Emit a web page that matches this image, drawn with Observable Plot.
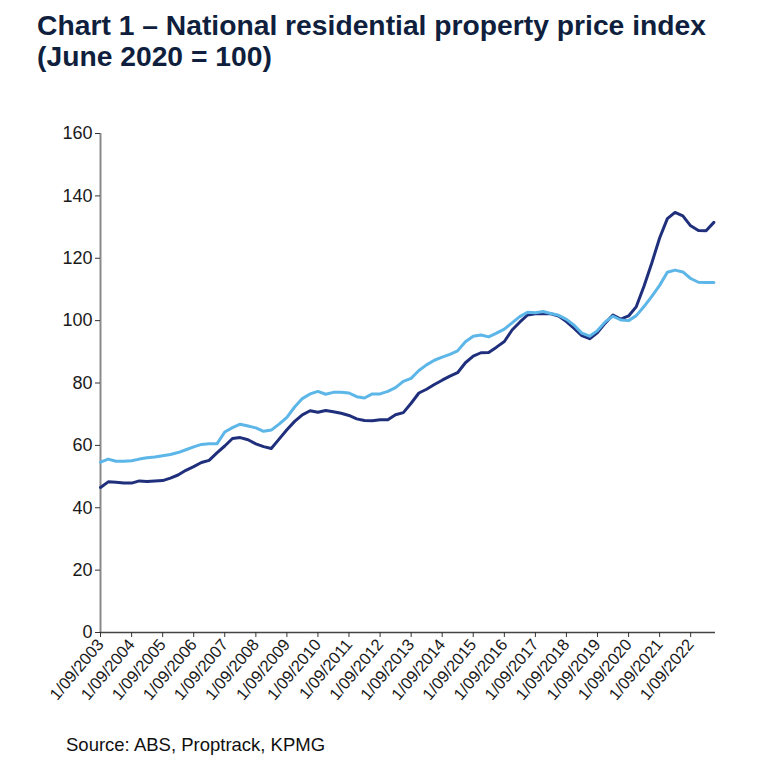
<!DOCTYPE html>
<html>
<head>
<meta charset="utf-8">
<script src="https://cdn.jsdelivr.net/npm/d3@7"></script>
<script src="https://cdn.jsdelivr.net/npm/@observablehq/plot@0.6"></script>
<style>
  html, body { margin: 0; padding: 0; background: #fff; }
  #wrap { width: 768px; height: 768px; position: relative; overflow: hidden; }
  #title { height: 80px; box-sizing: border-box; padding: 10px 0 0 37px; font-family: "Liberation Sans Narrow", "Arial Narrow", "Liberation Sans", Arial, sans-serif; font-weight: bold; font-size: 27.5px; line-height: 31px; color: #0f1f3d; white-space: nowrap; }
  #title span { display: inline-block; transform-origin: 0 0; }
  #caption { font-family: "Liberation Sans", Arial, sans-serif; font-size: 18.5px; color: #111; padding: 17px 0 0 66px; }
  svg { display: block; }
</style>
</head>
<body>
<div id="wrap">
  <div id="title"><span id="tspan">Chart 1 – National residential property price index<br>(June 2020 = 100)</span></div>
  <div id="chart"></div>
  <div id="caption">Source: ABS, Proptrack, KPMG</div>
</div>
<script>
// Quarterly index values, September 2003 to June 2023 (June 2020 = 100)
const darkSeries = [
  46.5, 48.3, 48.2, 47.9, 47.9, 48.6, 48.4, 48.6, 48.7, 49.5,
  50.5, 52.0, 53.2, 54.5, 55.2, 57.6, 59.8, 62.2, 62.5, 61.8,
  60.5, 59.6, 59.0, 62.0, 65.0, 67.7, 69.8, 71.1, 70.6, 71.2,
  70.8, 70.3, 69.6, 68.5, 68.0, 67.9, 68.2, 68.2, 69.8, 70.5,
  73.5, 76.8, 78.0, 79.5, 80.9, 82.2, 83.3, 86.5, 88.6, 89.7,
  89.8, 91.5, 93.3, 97.0, 99.5, 101.8, 102.2, 102.3, 102.2, 101.5,
  99.7, 97.5, 95.2, 94.2, 96.2, 99.2, 101.8, 100.5, 101.5, 104.5,
  111.0, 118.5, 126.5, 132.7, 134.7, 133.6, 130.4, 128.9, 128.8, 131.5
];
const lightSeries = [
  54.6, 55.6, 54.9, 54.9, 55.1, 55.6, 56.0, 56.3, 56.7, 57.1,
  57.7, 58.6, 59.5, 60.3, 60.5, 60.5, 64.3, 65.7, 66.8, 66.2,
  65.6, 64.5, 64.9, 66.8, 69.0, 72.3, 75.0, 76.5, 77.3, 76.4,
  77.0, 77.0, 76.8, 75.6, 75.2, 76.5, 76.5, 77.3, 78.5, 80.5,
  81.5, 84.0, 85.8, 87.3, 88.3, 89.2, 90.3, 93.2, 95.0, 95.4,
  94.8, 96.0, 97.3, 99.3, 101.3, 102.7, 102.5, 102.9, 102.3, 101.7,
  100.4, 98.5, 96.0, 95.0, 96.8, 99.6, 101.4, 100.2, 100.0, 101.6,
  104.5, 107.8, 111.3, 115.5, 116.2, 115.6, 113.5, 112.3, 112.2, 112.2
];
const firstQuarter = "2003-09-01";
const tickYears = [2003,2004,2005,2006,2007,2008,2009,2010,2011,2012,2013,2014,2015,2016,2017,2018,2019,2020,2021,2022];
const yTicks = [0,20,40,60,80,100,120,140,160];

const start = new Date(firstQuarter + "T00:00:00Z");
const quarters = darkSeries.map((_, i) => d3.utcMonth.offset(start, 3 * i));
const darkData = quarters.map((date, i) => ({date, value: darkSeries[i]}));
const lightData = quarters.map((date, i) => ({date, value: lightSeries[i]}));
const xTicks = tickYears.map(y => new Date(Date.UTC(y, 8, 1)));

const W = 768, H = 637;
const chart = Plot.plot({
  width: W,
  height: H,
  marginLeft: 100,
  marginRight: 53,
  marginTop: 53,
  marginBottom: 85,
  style: {fontFamily: "'Liberation Sans', Arial, sans-serif", color: "#1a1a1a", background: "#fff"},
  x: {type: "utc", domain: [start, new Date(Date.UTC(2023, 5, 20))]},
  y: {domain: [0, 160]},
  marks: [
    Plot.ruleX([start], {y1: 0, y2: 160, stroke: "#8a8a8a", strokeWidth: 2}),
    Plot.ruleY([0], {stroke: "#444", strokeWidth: 1.5}),
    Plot.axisY({ticks: yTicks, tickSize: 5, tickPadding: 3, fontSize: 18, label: null, stroke: "#333"}),
    Plot.axisX({ticks: xTicks, tickFormat: d => `1/09/${d.getUTCFullYear()}`, tickRotate: -50, tickSize: 5, tickPadding: 4, fontSize: 16.5, label: null, stroke: "#333"}),
    Plot.line(darkData, {x: "date", y: "value", stroke: "#1f2f7c", strokeWidth: 3}),
    Plot.line(lightData, {x: "date", y: "value", stroke: "#5cb6e8", strokeWidth: 3})
  ]
});
document.getElementById("chart").appendChild(chart);

// fit the title to the reference width
const ts = document.getElementById("tspan");
const w = ts.getBoundingClientRect().width;
if (w > 0) ts.style.transform = `scaleX(${669 / w})`;
</script>
</body>
</html>
